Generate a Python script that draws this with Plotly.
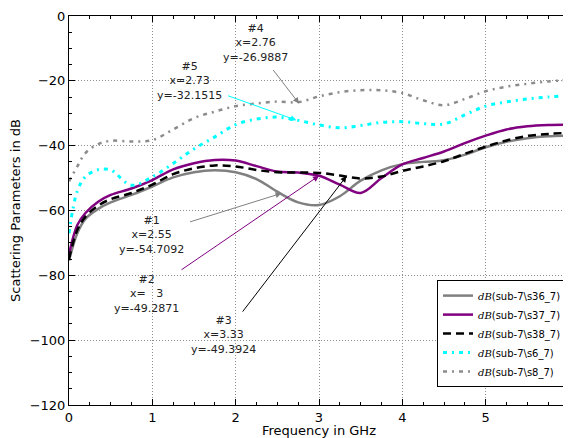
import plotly.graph_objects as go

# ---------------- data ----------------
freq = [0, 0.1, 0.2, 0.35, 0.5, 0.75, 1.0, 1.25, 1.5, 1.75, 2.0, 2.25, 2.5, 2.75,
        3.0, 3.25, 3.5, 3.75, 4.0, 4.25, 4.5, 4.75, 5.0, 5.25, 5.5, 5.75, 6.0]

s36 = [-75.5, -67.0, -62.5, -59.5, -57.5, -55.2, -52.6, -49.8, -48.2, -47.6, -48.2, -50.3,
       -54.2, -57.5, -58.3, -55.6, -50.8, -47.6, -45.7, -45.0, -44.5, -42.8, -40.5, -38.8,
       -37.7, -37.1, -36.9]
s37 = [-73.5, -64.5, -60.7, -57.3, -55.2, -53.2, -50.6, -47.3, -45.4, -44.4, -44.6, -46.3,
       -48.0, -48.3, -49.3, -52.0, -54.6, -50.0, -45.8, -43.8, -41.8, -39.2, -36.9, -35.0,
       -34.0, -33.6, -33.5]
s38 = [-75.0, -66.0, -61.8, -58.5, -56.5, -54.6, -52.0, -48.8, -47.0, -46.1, -46.4, -47.5,
       -48.2, -48.3, -48.4, -49.2, -50.1, -49.5, -47.8, -46.4, -44.8, -42.5, -40.3, -38.4,
       -37.0, -36.4, -36.0]
s6 = [-67.0, -54.0, -49.5, -47.4, -47.5, -52.2, -49.6, -45.5, -41.0, -37.3, -33.5, -31.8,
      -31.2, -32.2, -33.6, -34.5, -33.8, -32.8, -32.6, -33.2, -33.3, -30.5, -27.8, -26.5,
      -25.6, -25.0, -24.6]
s8 = [-51.0, -46.4, -42.2, -39.5, -38.5, -38.7, -38.3, -35.0, -31.5, -29.5, -27.8, -27.0,
      -26.4, -26.6, -24.8, -23.5, -22.9, -22.9, -23.8, -26.0, -27.5, -25.6, -23.2, -21.8,
      -20.9, -20.2, -19.7]

series_names = ["sub-7\\s36_7", "sub-7\\s37_7", "sub-7\\s38_7", "sub-7\\s6_7", "sub-7\\s8_7"]

marker_ids = ["#1", "#2", "#3", "#4", "#5"]
marker_x = [2.55, 3, 3.33, 2.76, 2.73]
marker_x_text = ["2.55", "\u00a0\u00a0\u00a03", "3.33", "2.76", "2.73"]
marker_y = [-54.7092, -49.2871, -49.3924, -26.9887, -32.1515]

x_ticks = [0, 1, 2, 3, 4, 5, 6]
y_ticks = [0, -20, -40, -60, -80, -100, -120]

# ---------------- styles ----------------
FONT = "DejaVu Sans"
styles = [
    dict(color="#808080", width=2.5, dash="solid"),
    dict(color="#800080", width=2.5, dash="solid"),
    dict(color="#000000", width=2.5, dash="8px,5px"),
    dict(color="#00ffff", width=3, dash="4px,5px,2px,5px"),
    dict(color="#8c8c8c", width=2.5, dash="4px,5px,2px,5px"),
]
all_series = [s36, s37, s38, s6, s8]

fig = go.Figure()
for name, ys, st in zip(series_names, all_series, styles):
    fig.add_trace(go.Scatter(
        x=freq, y=ys, mode="lines", line_shape="spline",
        line=dict(color=st["color"], width=st["width"], dash=st["dash"], smoothing=1.0),
        name='<span style="font-family:DejaVu Serif;font-style:italic">dB</span>(' + name + ')',
    ))

# arrows and marker text
arrow_colors = ["#808080", "#800080", "#000000", "#808080", "#00ffff"]
arrow_off = [(-93, 29), (-139, 95), (-105, 137), (-27, -35), (-70, -25)]
text_pos = [(0.164, 0.438), (0.155, 0.285), (0.309, 0.179), (0.372, 0.930), (0.240, 0.832)]
for mid, mx, mxt, my, col, off, tp in zip(marker_ids, marker_x, marker_x_text, marker_y,
                                           arrow_colors, arrow_off, text_pos):
    fig.add_annotation(x=mx, y=my, xref="x", yref="y", text="", showarrow=True,
                       ax=off[0], ay=off[1], arrowcolor=col, arrowwidth=1,
                       arrowhead=2, arrowsize=1.2, standoff=0)
    fig.add_annotation(x=tp[0], y=tp[1], xref="paper", yref="paper",
                       text=f"{mid}<br>x={mxt}<br>y={my}", showarrow=False,
                       font=dict(family=FONT, size=11, color="#222222"),
                       xanchor="center", yanchor="middle", align="center")

axis_common = dict(
    showline=True, linecolor="#000000", linewidth=1, mirror="ticks",
    ticks="inside", ticklen=6, tickcolor="#000000",
    showgrid=True, gridcolor="#8f8f8f", griddash="1px,2px", gridwidth=1,
    zeroline=False, tickfont=dict(family=FONT, size=13, color="#000000"),
    ticklabeloverflow="allow",
)

fig.update_xaxes(range=[0, 6], tickvals=x_ticks, ticktext=[str(v) for v in x_ticks],
                 minor=dict(dtick=0.25, ticks="inside", ticklen=3, tickcolor="#000000", showgrid=False),
                 title=dict(text="Frequency in GHz", font=dict(family=FONT, size=13, color="#000000"),
                            standoff=4),
                 **axis_common)
fig.update_yaxes(range=[-120, 0], tickvals=y_ticks,
                 minor=dict(dtick=5, ticks="inside", ticklen=3, tickcolor="#000000", showgrid=False),
                 title=dict(text="Scattering Parameters in dB", font=dict(family=FONT, size=13, color="#000000"),
                            standoff=10),
                 **axis_common)

# the page body adds an 8px offset, so the figure is sized to fit the window after it
fig.update_layout(
    width=563, height=430,
    margin=dict(l=61, r=2, t=8, b=33, autoexpand=False),
    plot_bgcolor="white", paper_bgcolor="white",
    font=dict(family=FONT, size=12, color="#000000"),
    showlegend=True,
    legend=dict(x=0.996, y=0.046, xanchor="right", yanchor="bottom",
                bgcolor="white", bordercolor="#000000", borderwidth=1,
                font=dict(family=FONT, size=10, color="#000000"),
                itemwidth=30, tracegroupgap=0),
)

fig.write_html("out.html")
